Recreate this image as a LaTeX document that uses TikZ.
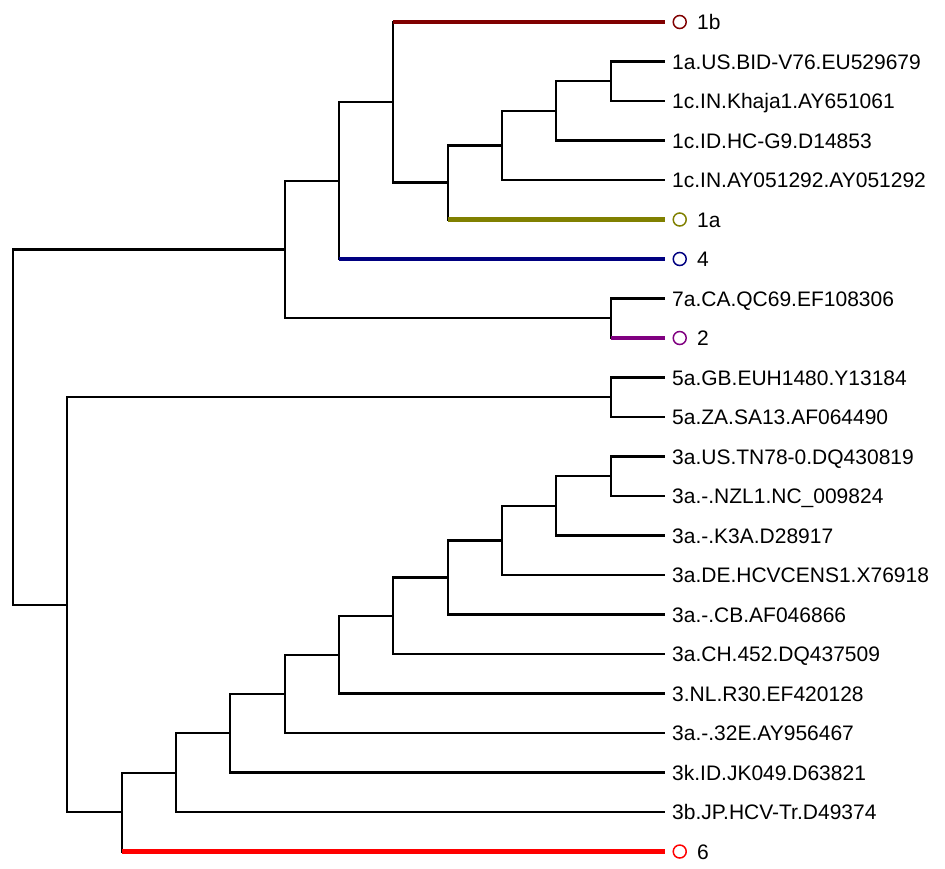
\documentclass[tikz,border=0pt]{standalone}
\usepackage{fontspec}
\setmainfont{Liberation Sans}
\usetikzlibrary{positioning}
\definecolor{cOneB}{RGB}{128,0,0}
\definecolor{cOneA}{RGB}{128,128,0}
\definecolor{cFour}{RGB}{0,0,128}
\definecolor{cTwo}{RGB}{128,0,128}
\definecolor{cSix}{RGB}{255,0,0}
\begin{document}
\begin{tikzpicture}[x=54.33pt, y=-39.5pt,
                branch/.style={line width=2.2pt},
                typeline/.style={line width=4.5pt},
                leaf/.style={anchor=west, inner xsep=7pt, inner ysep=0pt, text height=15pt, text depth=0pt, font=\fontsize{21}{24}\selectfont},
                typemark/.style={draw, circle, line width=1.5pt, minimum size=13pt, inner sep=0pt},
                typename/.style={inner sep=0pt, text height=15pt, text depth=0pt, font=\fontsize{21}{24}\selectfont}]
                \useasboundingbox (-0.2393, -0.557) rectangle (17.154, 21.418);
                \node[leaf] (usbid) at (12, 1) {1a.US.BID-V76.EU529679};
                \node[leaf] (khaja) at (12, 2) {1c.IN.Khaja1.AY651061};
                \node[leaf] (idhc) at (12, 3) {1c.ID.HC-G9.D14853};
                \node[leaf] (inay) at (12, 4) {1c.IN.AY051292.AY051292};
                \node[leaf] (qc69) at (12, 7) {7a.CA.QC69.EF108306};
                \node[leaf] (gb) at (12, 9) {5a.GB.EUH1480.Y13184};
                \node[leaf] (za) at (12, 10) {5a.ZA.SA13.AF064490};
                \node[leaf] (tn) at (12, 11) {3a.US.TN78-0.DQ430819};
                \node[leaf] (nzl) at (12, 12) {3a.-.NZL1.NC\_009824};
                \node[leaf] (k3a) at (12, 13) {3a.-.K3A.D28917};
                \node[leaf] (de) at (12, 14) {3a.DE.HCVCENS1.X76918};
                \node[leaf] (cb) at (12, 15) {3a.-.CB.AF046866};
                \node[leaf] (ch) at (12, 16) {3a.CH.452.DQ437509};
                \node[leaf] (nlr) at (12, 17) {3.NL.R30.EF420128};
                \node[leaf] (e32) at (12, 18) {3a.-.32E.AY956467};
                \node[leaf] (jk) at (12, 19) {3k.ID.JK049.D63821};
                \node[leaf] (jptr) at (12, 20) {3b.JP.HCV-Tr.D49374};
                \coordinate (t1b) at (12, 0);
                \coordinate (t1a) at (12, 5);
                \coordinate (t4) at (12, 6);
                \coordinate (t2) at (12, 8);
                \coordinate (t6) at (12, 21);
                \node[typemark, draw=cOneB, right=7.5pt of t1b] (m1b) {};
                \node[typemark, draw=cOneA, right=7.5pt of t1a] (m1a) {};
                \node[typemark, draw=cFour, right=7.5pt of t4] (m4) {};
                \node[typemark, draw=cTwo, right=7.5pt of t2] (m2) {};
                \node[typemark, draw=cSix, right=7.5pt of t6] (m6) {};
                \node[typename, right=10pt of m1b] (n1b) {1b};
                \node[typename, right=10pt of m1a] (n1a) {1a};
                \node[typename, right=10pt of m4] (n4) {4};
                \node[typename, right=10pt of m2] (n2) {2};
                \node[typename, right=10pt of m6] (n6) {6};
                \coordinate (root) at (0, 10.254);
                \coordinate (A) at (5, 5.7578);
                \coordinate (C) at (6, 4.0156);
                \coordinate (E) at (7, 2.0313);
                \coordinate (F) at (8, 4.0625);
                \coordinate (G) at (9, 3.125);
                \coordinate (H) at (10, 2.25);
                \coordinate (I) at (11, 1.5);
                \coordinate (D) at (11, 7.5);
                \coordinate (B) at (1, 14.75);
                \coordinate (J) at (11, 9.5);
                \coordinate (K) at (2, 20.001);
                \coordinate (L) at (3, 19.002);
                \coordinate (M) at (4, 18.004);
                \coordinate (N) at (5, 17.008);
                \coordinate (O) at (6, 16.016);
                \coordinate (P) at (7, 15.031);
                \coordinate (Q) at (8, 14.063);
                \coordinate (R) at (9, 13.125);
                \coordinate (S) at (10, 12.25);
                \coordinate (T) at (11, 11.5);
                \draw[branch] (A) -| (root) |- (B);
                \draw[branch] (C) -| (A) |- (D);
                \draw[branch] (E) -| (C) |- (t4);
                \draw[branch] (t1b) -| (E) |- (F);
                \draw[branch] (G) -| (F) |- (t1a);
                \draw[branch] (H) -| (G) |- (inay.west);
                \draw[branch] (I) -| (H) |- (idhc.west);
                \draw[branch] (usbid.west) -| (I) |- (khaja.west);
                \draw[branch] (qc69.west) -| (D) |- (t2);
                \draw[branch] (J) -| (B) |- (K);
                \draw[branch] (gb.west) -| (J) |- (za.west);
                \draw[branch] (L) -| (K) |- (t6);
                \draw[branch] (M) -| (L) |- (jptr.west);
                \draw[branch] (N) -| (M) |- (jk.west);
                \draw[branch] (O) -| (N) |- (e32.west);
                \draw[branch] (P) -| (O) |- (nlr.west);
                \draw[branch] (Q) -| (P) |- (ch.west);
                \draw[branch] (R) -| (Q) |- (cb.west);
                \draw[branch] (S) -| (R) |- (de.west);
                \draw[branch] (T) -| (S) |- (k3a.west);
                \draw[branch] (tn.west) -| (T) |- (nzl.west);
                \draw[typeline, cOneB] (E |- t1b) -- (t1b);
                \draw[typeline, cOneA] (F |- t1a) -- (t1a);
                \draw[typeline, cFour] (C |- t4) -- (t4);
                \draw[typeline, cTwo] (D |- t2) -- (t2);
                \draw[typeline, cSix] (K |- t6) -- (t6);
            \end{tikzpicture}
\end{document}
